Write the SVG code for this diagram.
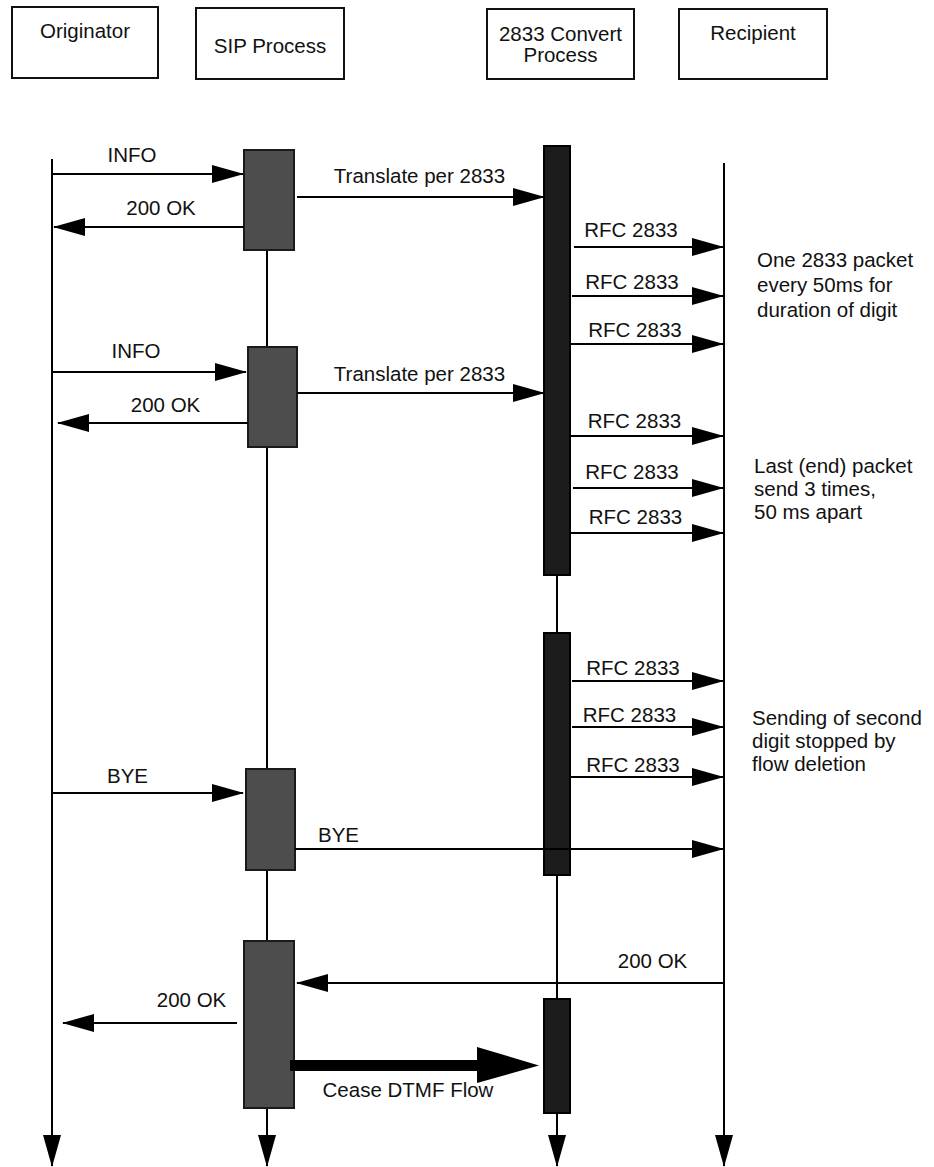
<svg xmlns="http://www.w3.org/2000/svg" width="934" height="1167" viewBox="0 0 934 1167">
<defs>
<style>
text{font-family:"Liberation Sans",Arial,Helvetica,sans-serif;font-size:20.5px;fill:#111;}
.c{text-anchor:middle;}
.hdr{fill:#fff;stroke:#111;stroke-width:2;}
.life{stroke:#000;stroke-width:2;fill:none;}
.msg{stroke:#000;stroke-width:2;fill:none;marker-end:url(#ah);}
.sip{fill:#4d4d4d;stroke:#1a1a1a;stroke-width:2;}
.cv{fill:#1c1c1c;stroke:#000;stroke-width:2;}
</style>
<marker id="ah" markerUnits="userSpaceOnUse" markerWidth="32" markerHeight="18" viewBox="0 0 32 18" refX="31" refY="9" orient="auto"><path d="M0,0 L32,9 L0,18 z" fill="#000"/></marker>
<marker id="ahd" markerUnits="userSpaceOnUse" markerWidth="32" markerHeight="18" viewBox="0 0 32 18" refX="31" refY="9" orient="auto"><path d="M0,0 L32,9 L0,18 z" fill="#000"/></marker>
</defs>
<rect width="934" height="1167" fill="#fff"/>

<g id="originator">
<rect class="hdr" x="12" y="7" width="146" height="71"/>
<text class="c" x="85" y="38">Originator</text>
<line class="life" x1="52" y1="159" x2="52" y2="1166" marker-end="url(#ahd)"/>
</g>

<g id="sip-process">
<rect class="hdr" x="196" y="8" width="148" height="71"/>
<text class="c" x="270" y="53">SIP Process</text>
<line class="life" x1="267" y1="150" x2="267" y2="1166" marker-end="url(#ahd)"/>
<rect class="sip" x="244" y="150" width="50" height="100"/>
<rect class="sip" x="248" y="347" width="49" height="100"/>
<rect class="sip" x="246" y="769" width="49" height="101"/>
<rect class="sip" x="244" y="941" width="50" height="167"/>
</g>

<g id="convert-process">
<rect class="hdr" x="487" y="9" width="147" height="70"/>
<text class="c" x="560.5" y="41">2833 Convert</text>
<text class="c" x="560.5" y="62">Process</text>
<line class="life" x1="557" y1="146" x2="557" y2="1166" marker-end="url(#ahd)"/>
<rect class="cv" x="544" y="146" width="26" height="429"/>
<rect class="cv" x="544" y="633" width="26" height="242"/>
<rect class="cv" x="544" y="999" width="26" height="114"/>
</g>

<g id="recipient">
<rect class="hdr" x="679" y="9" width="148" height="70"/>
<text class="c" x="753" y="40">Recipient</text>
<line class="life" x1="724" y1="163" x2="724" y2="1166" marker-end="url(#ahd)"/>
</g>

<g id="connectors">
<line class="msg" x1="53" y1="174" x2="243" y2="174"/>
<line class="msg" x1="297" y1="197" x2="544" y2="197"/>
<line class="msg" x1="244" y1="227" x2="54" y2="227"/>
<line class="msg" x1="574" y1="247" x2="723" y2="247"/>
<line class="msg" x1="572" y1="296" x2="723" y2="296"/>
<line class="msg" x1="570" y1="344" x2="723" y2="344"/>
<line class="msg" x1="53" y1="372" x2="246" y2="372"/>
<line class="msg" x1="297" y1="393" x2="544" y2="393"/>
<line class="msg" x1="248" y1="423" x2="58" y2="423"/>
<line class="msg" x1="570" y1="436" x2="723" y2="436"/>
<line class="msg" x1="573" y1="488" x2="723" y2="488"/>
<line class="msg" x1="570" y1="533" x2="723" y2="533"/>
<line class="msg" x1="572" y1="681" x2="723" y2="681"/>
<line class="msg" x1="572" y1="727" x2="723" y2="727"/>
<line class="msg" x1="570" y1="777" x2="723" y2="777"/>
<line class="msg" x1="53" y1="793" x2="243" y2="793"/>
<line class="msg" x1="295" y1="849" x2="723" y2="849"/>
<line class="msg" x1="724" y1="983" x2="297" y2="983"/>
<line class="msg" x1="237" y1="1023" x2="63" y2="1023"/>
<polygon points="290,1060 477,1060 477,1047 539,1065.5 477,1083 477,1071 290,1071" fill="#000"/>
</g>

<g id="labels">
<text class="c" x="132" y="162">INFO</text>
<text class="c" x="419.5" y="183">Translate per 2833</text>
<text class="c" x="161" y="215">200 OK</text>
<text class="c" x="631" y="237">RFC 2833</text>
<text class="c" x="632" y="289">RFC 2833</text>
<text class="c" x="635" y="337">RFC 2833</text>
<text class="c" x="136" y="358">INFO</text>
<text class="c" x="419.5" y="381">Translate per 2833</text>
<text class="c" x="165.5" y="412">200 OK</text>
<text class="c" x="634.5" y="428">RFC 2833</text>
<text class="c" x="632" y="479">RFC 2833</text>
<text class="c" x="635.5" y="524">RFC 2833</text>
<text class="c" x="633" y="675">RFC 2833</text>
<text class="c" x="629.5" y="722">RFC 2833</text>
<text class="c" x="633" y="772">RFC 2833</text>
<text class="c" x="127.5" y="783">BYE</text>
<text class="c" x="338.5" y="842">BYE</text>
<text class="c" x="652.5" y="968">200 OK</text>
<text class="c" x="191.5" y="1007">200 OK</text>
<text class="c" x="408" y="1097">Cease DTMF Flow</text>
</g>

<g id="notes">
<text x="757" y="267">One 2833 packet</text>
<text x="757" y="292">every 50ms for</text>
<text x="757" y="317">duration of digit</text>
<text x="754" y="473">Last (end) packet</text>
<text x="754" y="496">send 3 times,</text>
<text x="754" y="519">50 ms apart</text>
<text x="752" y="725">Sending of second</text>
<text x="752" y="748">digit stopped by</text>
<text x="752" y="771">flow deletion</text>
</g>
</svg>
